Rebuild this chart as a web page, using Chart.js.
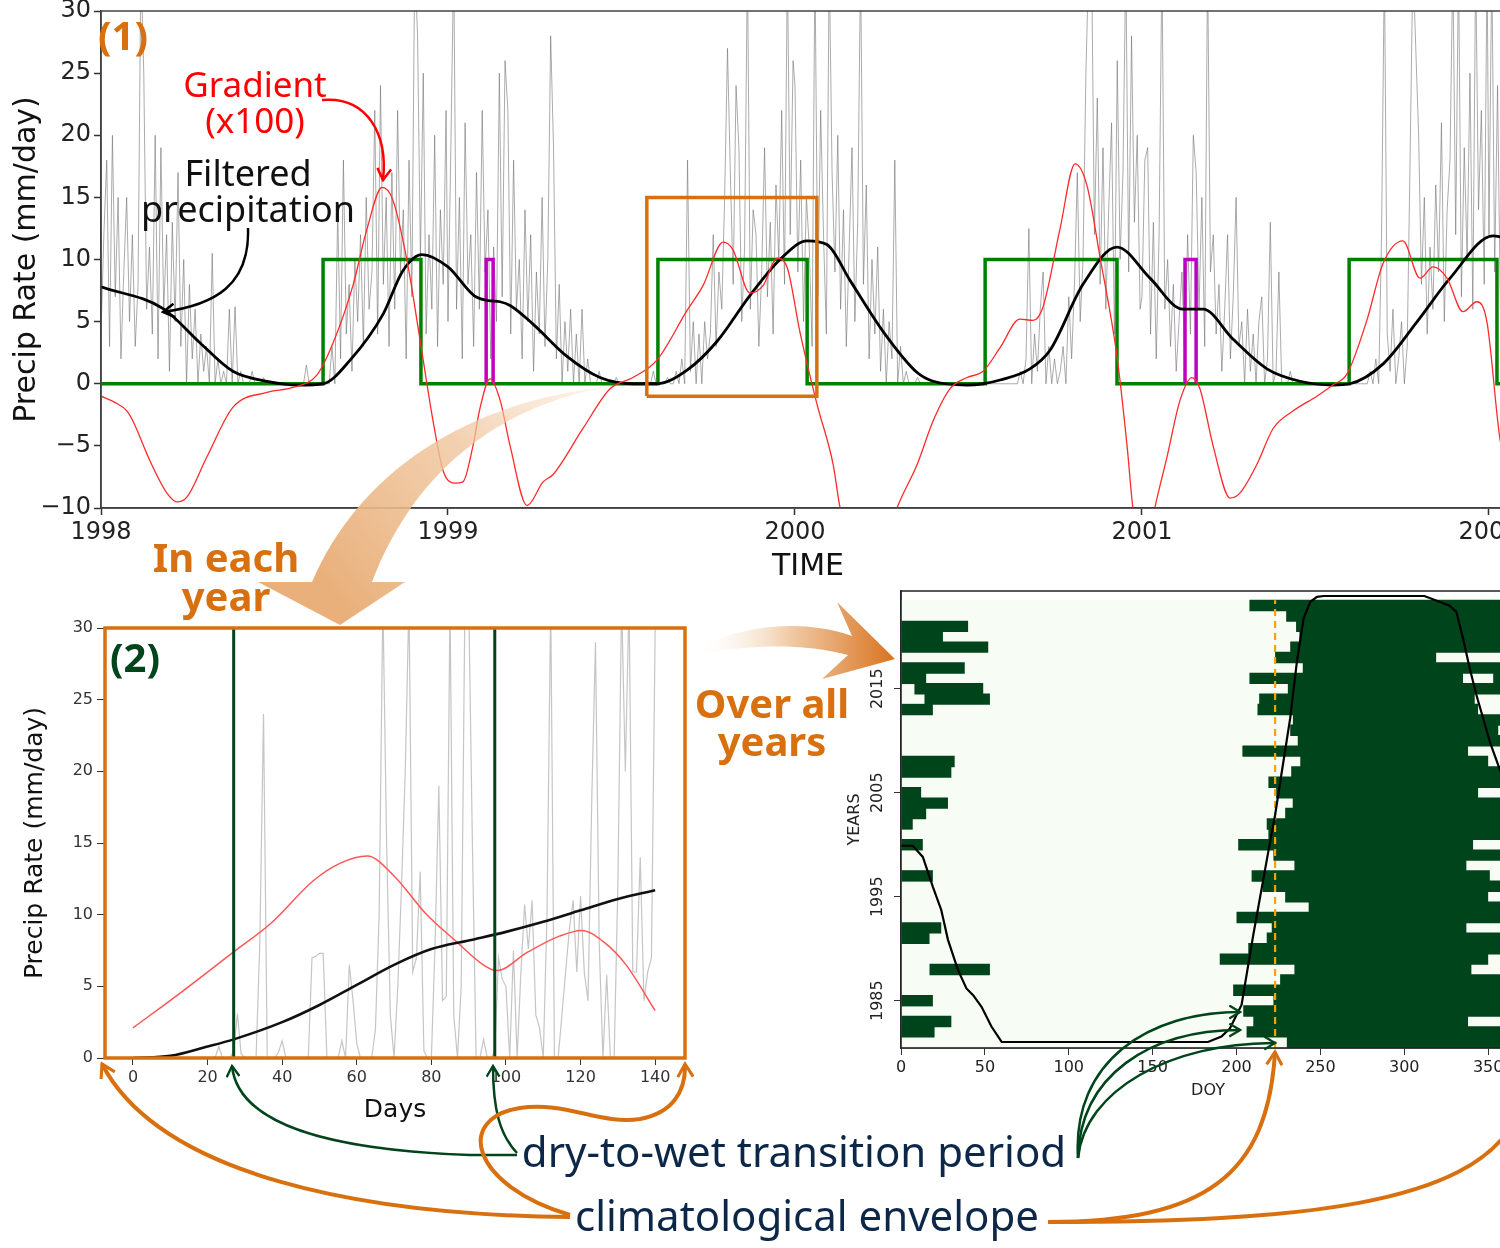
<!DOCTYPE html>
<html>
<head>
<meta charset="utf-8">
<script src="https://cdn.jsdelivr.net/npm/chart.js@4.4.1/dist/chart.umd.min.js"></script>
<style>
  html, body { margin: 0; padding: 0; background: #fff; overflow: hidden; }
  #page { position: relative; width: 1500px; height: 1248px; overflow: hidden; }
  #page canvas { position: absolute; }
  #c1 { left: 0; top: -20px; }
  #c2 { left: 0; top: 600px; }
  #c3 { left: 840px; top: 560px; }
  #notes { position: absolute; left: 0; top: 0; }
</style>
</head>
<body>
<div id="page">
  <canvas id="c1" width="1560" height="610"></canvas>
  <canvas id="c2" width="720" height="540"></canvas>
  <canvas id="c3" width="700" height="560"></canvas>

  <svg id="notes" width="1500" height="1248" viewBox="0 0 1500 1248" font-family="Noto Sans, Open Sans, sans-serif">
    <defs>
      <marker id="hRed" viewBox="0 0 14 14" refX="12" refY="7" markerWidth="16" markerHeight="16" markerUnits="userSpaceOnUse" orient="auto">
        <path d="M2,1 L12,7 L2,13" fill="none" stroke="#ff0000" stroke-width="2.2"/>
      </marker>
      <marker id="hBlack" viewBox="0 0 14 14" refX="12" refY="7" markerWidth="16" markerHeight="16" markerUnits="userSpaceOnUse" orient="auto">
        <path d="M2,1 L12,7 L2,13" fill="none" stroke="#000" stroke-width="2.2"/>
      </marker>
      <marker id="hGreen" viewBox="0 0 14 14" refX="12" refY="7" markerWidth="15" markerHeight="15" markerUnits="userSpaceOnUse" orient="auto">
        <path d="M2,1 L12,7 L2,13" fill="none" stroke="#00441b" stroke-width="2.2"/>
      </marker>
      <marker id="hOrange" viewBox="0 0 14 14" refX="12" refY="7" markerWidth="18" markerHeight="18" markerUnits="userSpaceOnUse" orient="auto">
        <path d="M2,1 L12,7 L2,13" fill="none" stroke="#d9700f" stroke-width="2.4"/>
      </marker>
      <linearGradient id="gDown" gradientUnits="userSpaceOnUse" x1="612" y1="386" x2="340" y2="600">
        <stop offset="0" stop-color="#f6d9bc" stop-opacity="0.25"/>
        <stop offset="0.45" stop-color="#efc59c" stop-opacity="0.8"/>
        <stop offset="1" stop-color="#e9b07b"/>
      </linearGradient>
      <linearGradient id="gRight" gradientUnits="userSpaceOnUse" x1="690" y1="650" x2="895" y2="650">
        <stop offset="0" stop-color="#ffffff" stop-opacity="0"/>
        <stop offset="0.5" stop-color="#f0c8a2"/>
        <stop offset="1" stop-color="#d9731f"/>
      </linearGradient>
    </defs>

    <!-- big connector arrows -->
    <path d="M614 386 C520 400, 420 455, 372 582 L405 582 L340 625 L258 582 L312 582 C360 470, 470 400, 614 386 Z" fill="url(#gDown)"/>
    <path d="M688 652 C740 625, 800 618, 852 636 L837 602 L895 659 L822 679 L848 655 C800 642, 740 645, 688 657 Z" fill="url(#gRight)"/>

    <!-- panel (1) labels -->
    <text x="98" y="50" font-size="40" font-weight="bold" fill="#d9700f">(1)</text>
    <text x="255" y="97" font-size="35" fill="#ff0000" text-anchor="middle">Gradient</text>
    <text x="255" y="133" font-size="35" fill="#ff0000" text-anchor="middle">(x100)</text>
    <text x="248" y="186" font-size="36" fill="#111" text-anchor="middle">Filtered</text>
    <text x="248" y="222" font-size="36" fill="#111" text-anchor="middle">precipitation</text>
    <path d="M322 100 C368 96, 388 135, 383 180" fill="none" stroke="#ff0000" stroke-width="2.5" marker-end="url(#hRed)"/>
    <path d="M248 228 C250 285, 215 305, 163 312" fill="none" stroke="#000" stroke-width="2.5" marker-end="url(#hBlack)"/>

    <text x="226" y="572" font-size="40" font-weight="bold" fill="#d9700f" text-anchor="middle">In each</text>
    <text x="226" y="611" font-size="40" font-weight="bold" fill="#d9700f" text-anchor="middle">year</text>
    <text x="110" y="672" font-size="40" font-weight="bold" fill="#00441b">(2)</text>
    <text x="772" y="718" font-size="40" font-weight="bold" fill="#d9700f" text-anchor="middle">Over all</text>
    <text x="772" y="756" font-size="40" font-weight="bold" fill="#d9700f" text-anchor="middle">years</text>

    <!-- bottom annotations -->
    <path d="M517 1155 L470 1155 C330 1150, 238 1125, 232 1066" fill="none" stroke="#00441b" stroke-width="2.5" marker-end="url(#hGreen)"/>
    <path d="M517 1153 C500 1135, 493 1110, 493 1066" fill="none" stroke="#00441b" stroke-width="2.5" marker-end="url(#hGreen)"/>
    <path d="M1078 1158 C1072 1060, 1150 1012, 1240 1012" fill="none" stroke="#00441b" stroke-width="2.5" marker-end="url(#hGreen)"/>
    <path d="M1078 1158 C1080 1075, 1150 1030, 1240 1030" fill="none" stroke="#00441b" stroke-width="2.5" marker-end="url(#hGreen)"/>
    <path d="M1078 1158 C1085 1090, 1170 1043, 1275 1043" fill="none" stroke="#00441b" stroke-width="2.5" marker-end="url(#hGreen)"/>

    <path d="M570 1217 C360 1215, 160 1175, 102 1064" fill="none" stroke="#d9700f" stroke-width="4" marker-end="url(#hOrange)"/>
    <path d="M570 1215 C470 1185, 455 1118, 520 1108 C565 1101, 600 1125, 640 1119 C672 1113, 686 1092, 685 1064" fill="none" stroke="#d9700f" stroke-width="4" marker-end="url(#hOrange)"/>
    <path d="M1048 1222 C1205 1222, 1268 1175, 1275 1052" fill="none" stroke="#d9700f" stroke-width="4" marker-end="url(#hOrange)"/>
    <path d="M1048 1222 C1300 1222, 1470 1205, 1515 1120" fill="none" stroke="#d9700f" stroke-width="4"/>

    <text x="794" y="1167" font-size="42" fill="#0c2748" text-anchor="middle">dry-to-wet transition period</text>
    <text x="807" y="1231" font-size="42" fill="#0c2748" text-anchor="middle">climatological envelope</text>
  </svg>
</div>

<script>
// ── Panel (1): daily precipitation, sampled every 3 days ─────────────────
const STEP_DAYS = 3;
const precip1998 = [
  4,12,18,3,20,7,15,2,9,15, 5,12,3,8,34,25,6,11,4,20, 2,19,6,12,1,13,5,17,3,10,
  0,8,2,6,0,4,1,3,0,10.5, 0,2,0,1,0,6,0,6.2,0,1, 0,
  0,0,1,0,0,0,0.5,0,0,0, 0,0,0,0,0,0,0,0,0,0, 0,1.5,0,0,0,0,0,0,0,
  0,3,0,14,2,18,4,8,1,10, 5,12,3,15,6,9,22,4,24,8, 15,3,17,6,22,9,14,2,18,7,
  34,28,10,25,4,12,6,20,3,14, 8,22
];
const precip1999 = [
  5,19,34,6,15,2,21,8,12,3, 17,6,22,9,14,2,11,5,25,7, 26,22,4,18,6,10,2,14,5,12,
  1,9,4,15,3,10,28,19,2,8, 0,5,1,6,0,4,0,6,0,2,
  0,0,0,1,0,0,0,0,0,0.5, 0,0,0,0,0,0,0,0,0,0, 0,0,1,0,0,0,0,0.5,0,
  0,1,0,2,0,18,1,5,0,4, 0,5,2,4,12,3,9,6,15,27, 17,8,24,19,5,11,34,6,14,12,
  3,9,19,7,13,4,16,10,22,8, 34,12,26
];
const precip2000 = [
  24,9,18,5,15,11,3,34,7,22, 12,4,34,17,9,20,6,14,3,11, 19,5,13,34,8,16,2,10,4,11,
  1,6,0,5,2,18,0,3,0,1, 0,
  0,0,0.5,0,0,0,0,0,0,0, 0,0,0,0,0,0,0,0,0,0, 0,0,0,0,0,0,0,0,0,0, 0,0,0,0,0,0,0,
  0,1,0,2,12.5,0,4,1,6,9, 0,3,0,2,0,1,3,0,7,2, 8,17,5,10,25,34,34,12,23,8,
  19,6,14,21,4,26,10,17,34,9, 28,13,20,6
];
const precip2001 = [
  7,18,19,4,13,2,12,34,6,10, 3,8,1,5,9,2,12,4,20,17, 6,15,3,34,9,12,4,8,1,6,
  12,2,7,15,3,5,0,6,1,4, 0,5,7,0,2,13,0,1,9,0,
  0,0,1,0,0,0,0,0,0,0, 0,0,0,0,0,0,0,0,0,0, 0,0,0,0,0,0,0,0,0,
  0,1,0,2,0,12,34,4,1,6, 0,2,5,0,3,18,34,27,20,8, 15,4,11,6,16,9,21,5,14,18,
  34,12,34,7,19,10,25,6,34,14, 22,8,34
];
const precip2002 = [12,34,9,24,6,18,4,15,7,20];

// filtered precipitation (black) and its gradient x100 (red), decimal years
const filteredTime = [
  1998.000,1998.179,1998.285,1998.380,1998.478,1998.573,1998.640,1998.718,1998.813,1998.870,
  1998.925,1999.000,1999.075,1999.115,1999.150,1999.179,1999.245,1999.343,1999.438,1999.533,
  1999.602,1999.689,1999.775,1999.870,1999.957,2000.035,2000.092,2000.159,2000.254,2000.352,
  2000.398,2000.496,2000.542,2000.591,2000.677,2000.735,2000.830,2000.928,2001.023,2001.118,
  2001.176,2001.262,2001.360,2001.455,2001.550,2001.599,2001.695,2001.793,2001.888,2002.012,
  2002.075
];
const filteredValue = [
  7.8,6.05,3.3,1.0,0.2,-0.1,0.0,1.9,5.6,9.1,
  10.4,9.4,7.1,6.7,6.6,6.3,4.8,2.2,0.5,0.0,
  0.0,1.1,3.4,7.1,10.0,11.5,11.2,8.3,4.2,0.9,
  0.2,-0.1,0.0,0.3,1.2,2.7,8.0,11.0,8.5,6.0,
  6.0,3.6,1.2,0.2,-0.1,0.0,1.6,5.0,8.5,11.9,
  11.5
];
const gradientTime = [
  1998.000,1998.040,1998.075,1998.092,1998.141,1998.190,1998.219,1998.248,1998.305,1998.380,
  1998.478,1998.553,1998.622,1998.669,1998.726,1998.767,1998.810,1998.841,1998.882,1998.919,
  1998.957,1998.986,1999.020,1999.043,1999.072,1999.092,1999.121,1999.150,1999.179,1999.228,
  1999.274,1999.303,1999.389,1999.467,1999.533,1999.602,1999.689,1999.735,1999.793,1999.821,
  1999.870,1999.908,1999.948,1999.977,2000.014,2000.063,2000.110,2000.130,2000.164,2000.210,
  2000.259,2000.294,2000.352,2000.398,2000.447,2000.496,2000.542,2000.591,2000.648,2000.686,
  2000.715,2000.764,2000.807,2000.841,2000.879,2000.928,2000.957,2000.974,2001.000,2001.023,
  2001.037,2001.072,2001.110,2001.144,2001.167,2001.205,2001.254,2001.282,2001.331,2001.378,
  2001.435,2001.504,2001.550,2001.591,2001.648,2001.695,2001.752,2001.801,2001.839,2001.879,
  2001.925,2001.965,2001.994,2002.032,2002.075
];
const gradientValue = [
  -1.0,-1.5,-2.2,-3.0,-6.2,-8.8,-9.5,-9.1,-5.9,-1.9,
  -0.7,-0.3,0.7,3.3,7.9,12.5,15.8,14.8,9.9,3.6,
  -3.0,-7.0,-8.0,-7.9,-5.0,-2.0,0.4,-1.3,-5.0,-9.8,
  -7.9,-7.3,-3.6,-0.4,0.5,1.9,5.9,7.9,11.4,10.8,
  7.3,7.9,10.1,9.4,4.2,-1.6,-6.5,-10,-13,-14,
  -13,-10,-6.5,-3.0,-0.4,0.5,1.0,2.9,5.2,5.1,
  6.2,12.5,17.7,16.0,10.2,2.2,-5.0,-10,-13,-12,
  -10,-5.9,-1.3,0.5,-0.4,-5.0,-9.2,-8.8,-6.5,-3.6,
  -2.2,-1.0,-0.1,0.8,5.1,9.7,11.5,8.5,9.4,8.5,
  5.8,6.6,5.0,-4.5,-9
];
// climatological envelope (green) and dry-to-wet transitions (magenta)
const envelopeOn  = [1998.640, 1999.605, 2000.548, 2001.597];
const envelopeOff = [1998.922, 2000.035, 2000.928, 2002.023];
const transitionOn  = [1999.110, 2001.124];
const transitionOff = [1999.130, 2001.156];
const focusYear = [1999.573, 2000.063];
const focusRange = [-1, 15];
const yearTicks = [1998, 1999, 2000, 2001, 2002];

// ── Panel (2): one year, days since start of window ─────────────────────
const dayPrecip = [
  0,0,0,0,0,0,0,0,0,0, 0,0,0,0,0,0,0,0,0,0, 0,0,0,
  0.8,0,0,0,0.5,3.1,0.3,0,0,0, 0,8,24,0,0,0,0.4,1.2,
  0,0,0,0,0,0,0,7,7.1,7.3, 7.3,0,0,0,0,1.2,0,6.5,4,1,
  0,0,0,0,2,10,32,15,3,0, 5,12,20,32,6,7,13,0.5,0,0,
  8,19,4,4.3,32,3,0,5,32,32, 15,0,0,1.3,0,0,0.5,7,5.5,5,
  0,7.5,0,6,10.7,7.6,11,3,2.1,0, 10,32,0,0,3,6,9,11,6,11.3,
  6,4,18,29,8,0,5.8,0,0,12, 32,20,32,6,6,14,4,6,7,30
];
const dayGradDays  = [0,13,27,37,48.5,55.6,62.8,70,78.4,86.8,93.9,97.5,105.9,114.3,120.3,126.2,132.2,140];
const dayGradValue = [2.1,4.6,7.4,9.4,12.4,13.6,14.1,12.7,10.1,8.1,6.5,6.1,7.4,8.5,8.9,8.1,6.5,3.3];
const dayFiltDays  = [0,10,20,27,40,50,60,70,80,90,100,110,120,130,140];
const dayFiltValue = [0,0.15,0.8,1.3,2.5,3.7,5.1,6.5,7.6,8.2,8.8,9.5,10.3,11.1,11.7];
const transitionDays = [27, 97];

// ── Panel (3): wet/dry days over all years ───────────────────────────────
const heatYears = Array.from({length: 43}, (_, i) => 1981 + i);
const onsetDoy = [
  230,206,210,204,222,198,226,234.5,190,207,
  218,221,200,243,229,215.5,209,234.5,222,201,
  219,218,229,233.5,223.6,219,232.6,238,203.5,236.5,
  232,233.6,212.5,213.5,230.6,207.7,239.5,223,232,237.5,
  235.5,229.6,207.7
];
const leftWetStart = [
  null,0,0,null,0,null,null,17,null,null,
  0,0,null,null,null,null,0,null,null,0,
  null,0,0,0,0,null,0,0,null,null,
  null,null,0,14,8,0,0,null,0,0,
  0,null,null
];
const leftWetEnd = [
  null,20,30,null,19,null,null,53,null,null,
  17,24,null,null,null,null,19,null,null,13,
  null,7,15,28,12,null,30,32,null,null,
  null,null,19,53,49,15,38,null,52,25,
  40,null,null
];
const lateGapStart = [
  null,null,338,null,null,null,null,340,350,null,
  null,337,null,null,350,null,351,337,null,341,
  null,null,null,null,344,null,null,350,338,null,
  356,null,344,342,null,335,null,319,null,null,
  null,null,null
];
const lateGapEnd = [
  null,null,null,null,null,null,null,null,null,null,
  null,null,null,null,null,null,null,null,null,null,
  null,null,null,null,null,null,null,null,null,null,
  null,null,null,null,null,353,null,null,null,null,
  null,null,null
];
const climDoy = [0,7,13,19,24,28,34,39,43,48,54,60,183,191,196,203,210,219,223,227,232,236,240,244,248,252,312,321,327,331,335,339,343,347,351,356,366];
const climFrac = [0.44,0.44,0.415,0.348,0.296,0.229,0.161,0.12,0.105,0.079,0.034,0,0,0.012,0.03,0.083,0.24,0.428,0.509,0.606,0.726,0.853,0.95,0.987,0.998,1,1,0.987,0.978,0.965,0.905,0.838,0.778,0.726,0.673,0.621,0.52];
const envelopeDoy = 223;
const heatTickYears = [1985, 1995, 2005, 2015];

// ── Shared setup ─────────────────────────────────────────────────────────
Chart.defaults.font.family = '"DejaVu Sans", sans-serif';
Chart.defaults.color = '#222';
Chart.defaults.animation = false;
Chart.defaults.plugins.legend.display = false;
Chart.defaults.plugins.tooltip.enabled = false;
Chart.defaults.elements.point.radius = 0;

const fixW = w => s => { s.width = w; };
const fixH = h => s => { s.height = h; };
const minus = v => (v < 0 ? '\u2212' + Math.abs(v) : String(v));
const pairs = (xs, ys) => xs.map((x, i) => ({x, y: ys[i]}));

const frame = {
  id: 'frame',
  afterDraw(chart, args, opts) {
    const {ctx, chartArea: a} = chart;
    ctx.save();
    ctx.strokeStyle = opts.color;
    ctx.lineWidth = opts.width;
    ctx.strokeRect(a.left, a.top, a.right - a.left, a.bottom - a.top);
    ctx.restore();
  }
};

// ── Panel (1) ────────────────────────────────────────────────────────────
const precipPts = [];
[[1998, precip1998], [1999, precip1999], [2000, precip2000], [2001, precip2001], [2002, precip2002]]
  .forEach(([yr, vals]) => vals.forEach((v, i) => precipPts.push({x: yr + i * STEP_DAYS / 365, y: v})));

const envelopePts = [{x: 1998, y: 0}];
envelopeOn.forEach((on, k) => {
  envelopePts.push({x: on, y: 0}, {x: on, y: 10}, {x: envelopeOff[k], y: 10}, {x: envelopeOff[k], y: 0});
});
envelopePts.push({x: 2002.1, y: 0});

const transitionPts = [];
transitionOn.forEach((on, k) => {
  const off = transitionOff[k];
  transitionPts.push({x: on, y: 0}, {x: on, y: 10}, {x: off, y: 10}, {x: off, y: 0}, {x: off + 0.01, y: null});
});

const focusPts = [
  {x: focusYear[0], y: focusRange[0]}, {x: focusYear[0], y: focusRange[1]},
  {x: focusYear[1], y: focusRange[1]}, {x: focusYear[1], y: focusRange[0]},
  {x: focusYear[0], y: focusRange[0]}
];

new Chart(document.getElementById('c1'), {
  type: 'line',
  data: {
    datasets: [
      { data: focusPts, borderColor: '#d9700f', borderWidth: 3.5, borderJoinStyle: 'miter', order: 0 },
      { data: pairs(gradientTime, gradientValue), borderColor: '#ff2a2a', borderWidth: 1.3, cubicInterpolationMode: 'monotone', order: 1 },
      { data: pairs(filteredTime, filteredValue), borderColor: '#000', borderWidth: 2.8, cubicInterpolationMode: 'monotone', order: 2 },
      { data: transitionPts, borderColor: '#c000c0', borderWidth: 3.5, borderJoinStyle: 'miter', spanGaps: false, order: 3 },
      { data: envelopePts, borderColor: '#008000', borderWidth: 3.5, borderJoinStyle: 'miter', order: 4 },
      { data: precipPts, borderColor: 'rgba(115,115,115,0.6)', borderWidth: 1, order: 5 },
    ]
  },
  options: {
    responsive: false,
    layout: { padding: { top: 31, right: 45, left: 0, bottom: 0 } },
    scales: {
      x: {
        type: 'linear', min: 1998, max: 2002.075, afterFit: fixH(82),
        afterBuildTicks: s => { s.ticks = yearTicks.map(v => ({value: v})); },
        ticks: { font: { size: 24 }, color: '#222', padding: 3, maxRotation: 0, callback: v => String(v) },
        grid: { drawOnChartArea: false, tickLength: 7, color: '#333', tickWidth: 1.5 },
        border: { color: '#333', width: 1.5 },
        title: { display: true, text: 'TIME', font: { size: 30 }, color: '#111', padding: { top: 0, bottom: 5 } }
      },
      y: {
        min: -10, max: 30, afterFit: fixW(101),
        ticks: { stepSize: 5, font: { size: 24 }, color: '#222', padding: 3, callback: minus },
        grid: { drawOnChartArea: false, tickLength: 7, color: '#333', tickWidth: 1.5 },
        border: { color: '#333', width: 1.5 },
        title: { display: true, text: 'Precip Rate (mm/day)', font: { size: 30 }, color: '#111', padding: { top: 9, bottom: 0 } }
      }
    },
    plugins: { frame: { color: '#444', width: 1.5 } }
  },
  plugins: [frame]
});

// ── Panel (2) ────────────────────────────────────────────────────────────
const transitionLines = [];
transitionDays.forEach(d => transitionLines.push({x: d, y: 0}, {x: d, y: 30}, {x: d + 0.5, y: null}));

new Chart(document.getElementById('c2'), {
  type: 'line',
  data: {
    datasets: [
      { data: transitionLines, borderColor: '#00441b', borderWidth: 3, spanGaps: false, order: 0 },
      { data: pairs(dayFiltDays, dayFiltValue), borderColor: '#111', borderWidth: 2.6, cubicInterpolationMode: 'monotone', order: 1 },
      { data: pairs(dayGradDays, dayGradValue), borderColor: '#ff5555', borderWidth: 1.5, cubicInterpolationMode: 'monotone', order: 2 },
      { data: dayPrecip.map((v, d) => ({x: d, y: v})), borderColor: 'rgba(150,150,150,0.55)', borderWidth: 1.2, order: 3 },
    ]
  },
  options: {
    responsive: false,
    layout: { padding: { top: 28, right: 35, left: 0, bottom: 0 } },
    scales: {
      x: {
        type: 'linear', min: -7.5, max: 148, afterFit: fixH(82),
        ticks: { stepSize: 20, includeBounds: false, font: { size: 16 }, color: '#333', padding: 3, maxRotation: 0 },
        grid: { drawOnChartArea: false, tickLength: 7, color: '#333' },
        border: { color: '#333', width: 1 },
        title: { display: true, text: 'Days', font: { size: 25 }, color: '#111', padding: { top: 0, bottom: 15 } }
      },
      y: {
        min: 0, max: 30, afterFit: fixW(105),
        ticks: { stepSize: 5, font: { size: 16 }, color: '#333', padding: 4 },
        grid: { drawOnChartArea: false, tickLength: 8, color: '#333' },
        border: { color: '#333', width: 1 },
        title: { display: true, text: 'Precip Rate (mm/day)', font: { size: 25 }, color: '#111', padding: { top: 20, bottom: 0 } }
      }
    },
    plugins: { frame: { color: '#d9700f', width: 3.5 } }
  },
  plugins: [frame]
});

// ── Panel (3) ────────────────────────────────────────────────────────────
const allDays = heatYears.map(y => ({y, x: [0, 366]}));
const leftWet = [], mainWet = [], tailWet = [];
heatYears.forEach((y, i) => {
  if (leftWetEnd[i] !== null) leftWet.push({y, x: [leftWetStart[i], leftWetEnd[i]]});
  mainWet.push({y, x: [onsetDoy[i], lateGapStart[i] !== null ? lateGapStart[i] : 366]});
  if (lateGapEnd[i] !== null) tailWet.push({y, x: [lateGapEnd[i], 366]});
});
const barStyle = { type: 'bar', indexAxis: 'y', grouped: false, barPercentage: 1, categoryPercentage: 1, borderWidth: 0 };
const wetStyle = Object.assign({}, barStyle, { barPercentage: 1.1, backgroundColor: '#00441b' });

const yearLabels = {
  id: 'yearLabels',
  afterDraw(chart) {
    const s = chart.scales.y, ctx = chart.ctx;
    ctx.save();
    ctx.font = '16px "DejaVu Sans"';
    ctx.fillStyle = '#222';
    ctx.textAlign = 'center';
    ctx.textBaseline = 'middle';
    heatTickYears.forEach(v => {
      ctx.save();
      ctx.translate(s.right - 23, s.getPixelForValue(v));
      ctx.rotate(-Math.PI / 2);
      ctx.fillText(String(v), 0, 0);
      ctx.restore();
    });
    ctx.restore();
  }
};

new Chart(document.getElementById('c3'), {
  type: 'bar',
  data: {
    datasets: [
      { type: 'line', data: pairs(climDoy, climFrac), yAxisID: 'yf', borderColor: '#000', borderWidth: 2.2, order: 0 },
      { type: 'line', data: [{x: envelopeDoy, y: 1980.45}, {x: envelopeDoy, y: 2023.5}], borderColor: '#f5a300', borderWidth: 2.2, borderDash: [7, 5], order: 1 },
      Object.assign({ data: tailWet, order: 2 }, wetStyle),
      Object.assign({ data: mainWet, order: 3 }, wetStyle),
      Object.assign({ data: leftWet, order: 4 }, wetStyle),
      Object.assign({ data: allDays, backgroundColor: '#f7fcf5', order: 5 }, barStyle),
    ]
  },
  options: {
    responsive: false,
    layout: { padding: { top: 31, right: 25, left: 0, bottom: 0 } },
    scales: {
      x: {
        type: 'linear', min: 0, max: 366, offset: false, afterFit: fixH(72),
        ticks: { stepSize: 50, includeBounds: false, font: { size: 16 }, color: '#222', padding: 3, maxRotation: 0 },
        grid: { offset: false, drawOnChartArea: false, tickLength: 7, color: '#333' },
        border: { color: '#333', width: 1.5 },
        title: { display: true, text: 'DOY', font: { size: 16 }, color: '#222', padding: { top: 0, bottom: 20 } }
      },
      y: {
        type: 'linear', min: 1980.45, max: 2024.4, offset: false, afterFit: fixW(61),
        afterBuildTicks: s => { s.ticks = heatTickYears.map(v => ({value: v})); },
        ticks: { display: false },
        grid: { offset: false, drawOnChartArea: false, tickLength: 7, color: '#333' },
        border: { color: '#333', width: 1.5 },
        title: { display: true, text: 'YEARS', font: { size: 16 }, color: '#222', padding: { top: 5, bottom: 0 } }
      },
      yf: { type: 'linear', display: false, offset: false, min: -0.0135, max: 1.0112 }
    },
    plugins: { frame: { color: '#222', width: 1.5 } }
  },
  plugins: [frame, yearLabels]
});
</script>
</body>
</html>
